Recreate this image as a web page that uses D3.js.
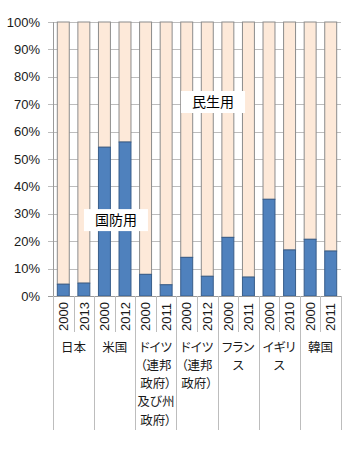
<!DOCTYPE html>
<html><head><meta charset="utf-8">
<script src="https://cdn.jsdelivr.net/npm/d3@7"></script>
<style>
html,body{margin:0;padding:0;background:#fff;}
svg{display:block;}
text{font-family:"Liberation Sans",Arial,sans-serif;}
.jp{font-family:"Noto Sans CJK JP","Noto Sans",sans-serif;font-feature-settings:"palt";}
</style></head>
<body>
<script>
// Data
const groups = [
  ["日本"],
  ["米国"],
  ["ドイツ","（連邦","政府）","及び州","政府）"],
  ["ドイツ","（連邦","政府）"],
  ["フラン","ス"],
  ["イギリ","ス"],
  ["韓国"]
];
const years = ["2000","2013","2000","2012","2000","2011","2000","2012","2000","2011","2000","2010","2000","2011"];
const defense = [4.3, 4.7, 54.3, 56.2, 7.9, 4.1, 14.1, 7.2, 21.4, 6.9, 35.3, 16.8, 20.7, 16.4];
const yTicks = [0,10,20,30,40,50,60,70,80,90,100];
const annotations = [
  {text:"国防用", pos:3.06, value:27.7},
  {text:"民生用", pos:7.78, value:70.8}
];

(function(){
const W=350,H=456;
const mL=53,mR=341,mT=22,mB=296;
const svg=d3.select("body").append("svg").attr("width",W).attr("height",H);

const idx=d3.range(years.length);
const x=d3.scaleBand().domain(idx).range([mL,mR]).paddingInner(0.37).paddingOuter(0.185);
const xl=d3.scaleLinear().domain([0,years.length]).range([mL,mR]);
const y=d3.scaleLinear().domain([0,100]).range([mB,mT]);

// gridlines
svg.append("g").selectAll("line").data(yTicks).join("line")
  .attr("x1",mL-5).attr("x2",mR).attr("y1",d=>Math.round(y(d))+0.5).attr("y2",d=>Math.round(y(d))+0.5)
  .attr("stroke","#bdbdbd").attr("stroke-width",1);

// y axis line
svg.append("line").attr("x1",mL+0.5).attr("x2",mL+0.5).attr("y1",mT).attr("y2",mB)
  .attr("stroke","#9a9a9a");

// y tick labels
svg.append("g").selectAll("text").data(yTicks).join("text")
  .attr("x",40).attr("y",d=>y(d)).attr("dy","0.36em").attr("text-anchor","end")
  .attr("font-size",13).attr("fill","#1a1a1a").text(d=>d+"%");

// bars: civilian (top)
svg.append("g").selectAll("rect").data(idx).join("rect")
  .attr("x",d=>x(d)+0.5).attr("width",x.bandwidth()-1)
  .attr("y",y(100)).attr("height",d=>y(defense[d])-y(100))
  .attr("fill","#fde9d9").attr("stroke","#8c8c8c").attr("stroke-width",1);
// bars: defense (bottom)
svg.append("g").selectAll("rect").data(idx).join("rect")
  .attr("x",d=>x(d)+0.5).attr("width",x.bandwidth()-1)
  .attr("y",d=>y(defense[d])).attr("height",d=>y(0)-y(defense[d]))
  .attr("fill","#4f81bd").attr("stroke","#385d8a").attr("stroke-width",1);

// x axis line
svg.append("line").attr("x1",mL-5).attr("x2",mR).attr("y1",mB+0.5).attr("y2",mB+0.5)
  .attr("stroke","#9a9a9a");

// separators
const sepShort=idx.filter(i=>i%2===1);
svg.append("g").selectAll("line").data(sepShort).join("line")
  .attr("x1",d=>Math.round(xl(d))+0.5).attr("x2",d=>Math.round(xl(d))+0.5)
  .attr("y1",mB).attr("y2",332).attr("stroke","#bdbdbd");
svg.append("g").selectAll("line").data(d3.range(0,years.length+1,2)).join("line")
  .attr("x1",d=>Math.round(xl(d))+0.5).attr("x2",d=>Math.round(xl(d))+0.5)
  .attr("y1",mB).attr("y2",430).attr("stroke","#bdbdbd");

// year labels
svg.append("g").selectAll("text").data(idx).join("text")
  .attr("transform",d=>`translate(${x(d)+x.bandwidth()/2},331) rotate(-90)`)
  .attr("dy","0.36em").attr("text-anchor","start")
  .attr("font-size",13).attr("fill","#1a1a1a").text(d=>years[d]);

// group labels
groups.forEach((lines,g)=>{
  const cx=xl(g*2+1);
  const t=svg.append("text").attr("class","jp").attr("font-size",12.5).attr("fill","#1a1a1a")
    .attr("text-anchor","middle");
  lines.forEach((s,i)=>{
    t.append("tspan").attr("x",cx).attr("y",347+i*18.3).attr("dy","0.36em").text(s);
  });
});

// annotations
annotations.forEach(a=>{
  const cx=xl(a.pos), cy=y(a.value);
  const g=svg.append("g");
  g.append("rect").attr("x",cx-32).attr("y",cy-11).attr("width",64).attr("height",22)
    .attr("fill","#fff");
  g.append("text").attr("class","jp").attr("x",cx).attr("y",cy).attr("dy","0.36em")
    .attr("text-anchor","middle").attr("font-size",14).attr("fill","#000").text(a.text);
});
})();
</script>
</body></html>
